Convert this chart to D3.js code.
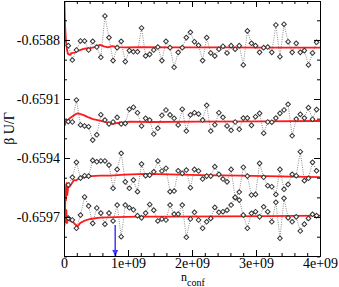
<!DOCTYPE html>
<html>
<head>
<meta charset="utf-8">
<script src="https://cdn.jsdelivr.net/npm/d3@7"></script>
<style>
body { margin: 0; background: #fff; }
text { font-family: "Liberation Serif", "Times New Roman", serif; }
</style>
</head>
<body>
<div id="chart"></div>
<script>
// sample positions (units of 1e9 configurations)
const firstConf = 0.067
const confStep = 0.0636

const series1 = [-0.658829,-0.658902,-0.658851,-0.658805,-0.658805,-0.658851,-0.658807,-0.658836,-0.658888,-0.658678,
  -0.658788,-0.658905,-0.658839,-0.658807,-0.658910,-0.658854,-0.658860,-0.658860,-0.658739,-0.658881,
  -0.658873,-0.658851,-0.658836,-0.658905,-0.658807,-0.658839,-0.658939,-0.658863,-0.658839,-0.658788,
  -0.658761,-0.658809,-0.658827,-0.658905,-0.658788,-0.658866,-0.658881,-0.658847,-0.658832,-0.658866,
  -0.658829,-0.658847,-0.658829,-0.658927,-0.658754,-0.658817,-0.658829,-0.658863,-0.658839,-0.658836,
  -0.658863,-0.658724,-0.658885,-0.658720,-0.658809,-0.658863,-0.658817,-0.658863,-0.658854,-0.658927,
  -0.658866,-0.658812]

const series2 = [-0.659215,-0.659217,-0.659105,-0.659232,-0.659237,-0.659241,-0.659309,-0.659282,-0.659180,-0.659207,
  -0.659227,-0.659217,-0.659193,-0.659227,-0.659224,-0.659152,-0.659142,-0.659170,-0.659237,-0.659198,
  -0.659207,-0.659278,-0.659249,-0.659183,-0.659156,-0.659181,-0.659198,-0.659232,-0.659152,-0.659263,
  -0.659181,-0.659170,-0.659176,-0.659207,-0.659132,-0.659263,-0.659231,-0.659170,-0.659193,-0.659237,
  -0.659259,-0.659217,-0.659254,-0.659197,-0.659197,-0.659234,-0.659190,-0.659173,-0.659274,-0.659217,
  -0.659218,-0.659197,-0.659173,-0.659156,-0.659127,-0.659287,-0.659202,-0.659178,-0.659197,-0.659144,
  -0.659203,-0.659154]

const series3 = [-0.659537,-0.659498,-0.659422,-0.659502,-0.659490,-0.659492,-0.659412,-0.659419,-0.659415,-0.659415,
  -0.659436,-0.659554,-0.659458,-0.659376,-0.659521,-0.659554,-0.659512,-0.659571,-0.659431,-0.659490,
  -0.659487,-0.659470,-0.659415,-0.659466,-0.659452,-0.659571,-0.659568,-0.659465,-0.659478,-0.659461,
  -0.659551,-0.659458,-0.659466,-0.659507,-0.659492,-0.659492,-0.659444,-0.659483,-0.659507,-0.659521,
  -0.659458,-0.659602,-0.659573,-0.659447,-0.659492,-0.659588,-0.659585,-0.659427,-0.659498,-0.659541,
  -0.659546,-0.659585,-0.659458,-0.659559,-0.659534,-0.659483,-0.659490,-0.659368,-0.659515,-0.659503,
  -0.659422,-0.659465]

const series4 = [-0.659705,-0.659715,-0.659757,-0.659690,-0.659598,-0.659644,-0.659732,-0.659654,-0.659680,-0.659736,
  -0.659680,-0.659720,-0.659639,-0.659800,-0.659639,-0.659653,-0.659663,-0.659693,-0.659704,-0.659680,
  -0.659636,-0.659665,-0.659720,-0.659710,-0.659715,-0.659639,-0.659685,-0.659685,-0.659639,-0.659803,
  -0.659710,-0.659676,-0.659715,-0.659757,-0.659724,-0.659707,-0.659651,-0.659676,-0.659673,-0.659665,
  -0.659639,-0.659600,-0.659614,-0.659690,-0.659757,-0.659681,-0.659673,-0.659699,-0.659648,-0.659673,
  -0.659724,-0.659625,-0.659808,-0.659605,-0.659704,-0.659724,-0.659699,-0.659771,-0.659736,-0.659707,
  -0.659686,-0.659693]

// running averages (red)
const avg1Conf = [0.005,0.016,0.031,0.047,0.0625,0.094,0.125,0.172,0.219,0.281,0.344,0.406,0.484,0.5625,0.625,0.6875,0.75,0.844,0.953,1.1875,1.656,2.4375,3.219,4.0]
const avg1 = [-0.658571,-0.658724,-0.658810,-0.658851,-0.658871,-0.658876,-0.658866,-0.658864,-0.658856,-0.658848,-0.658843,-0.658841,-0.658836,-0.658825,-0.658833,-0.658838,-0.658831,-0.658836,-0.658838,-0.658836,-0.658838,-0.658838,-0.658839,-0.658839]

const avg2Conf = [0.0,0.016,0.031,0.0625,0.094,0.141,0.1875,0.219,0.297,0.375,0.453,0.5625,0.6875,0.766,0.844,1.03,1.34,2.1,3.1,4.0]
const avg2 = [-0.659197,-0.659232,-0.659212,-0.659207,-0.659197,-0.659186,-0.659176,-0.659173,-0.659181,-0.659192,-0.659202,-0.659210,-0.659220,-0.659227,-0.659222,-0.659215,-0.659217,-0.659215,-0.659214,-0.659212]

const avg3Conf = [0.0,0.008,0.016,0.023,0.031,0.042,0.052,0.0625,0.094,0.125,0.156,0.1875,0.234,0.281,0.344,0.4375,0.5625,0.719,0.953,1.266,1.656,2.125,2.75,3.375,4.0]
const avg3 = [-0.659639,-0.659537,-0.659665,-0.659563,-0.659614,-0.659527,-0.659588,-0.659553,-0.659542,-0.659527,-0.659512,-0.659514,-0.659504,-0.659499,-0.659497,-0.659492,-0.659489,-0.659489,-0.659484,-0.659481,-0.659483,-0.659487,-0.659489,-0.659493,-0.659497]

const avg4Conf = [0.0,0.008,0.016,0.027,0.036,0.047,0.0625,0.094,0.141,0.1875,0.219,0.25,0.3125,0.406,0.5625,0.797,1.1875,1.656,2.4375,3.219,4.0]
const avg4 = [-0.659675,-0.659741,-0.659639,-0.659726,-0.659665,-0.659731,-0.659710,-0.659720,-0.659726,-0.659741,-0.659746,-0.659731,-0.659720,-0.659710,-0.659703,-0.659700,-0.659698,-0.659698,-0.659697,-0.659695,-0.659693]

// the chosen configuration count (blue arrow), units of 1e9
const arrowConf = 0.8
const arrowValue = -0.65974

const yMajor = [-0.6597,-0.6594,-0.6591,-0.6588]
const yMinor = [-0.6599,-0.6598,-0.6596,-0.6595,-0.6593,-0.6592,-0.6590,-0.6589,-0.6587]
const xMajor = [0,1,2,3,4]
const xLabels = ['0','1e+09','2e+09','3e+09','4e+09']
const xMinor = [0.2,0.4,0.6,0.8,1.2,1.4,1.6,1.8,2.2,2.4,2.6,2.8,3.2,3.4,3.6,3.8]

const W = 339, H = 287
const margin = {top: 1, right: 19, bottom: 31, left: 64}
const w = W - margin.left - margin.right
const h = H - margin.top - margin.bottom

const svg = d3.select('#chart').append('svg').attr('width', W).attr('height', H)
const g = svg.append('g').attr('transform', `translate(${margin.left},${margin.top})`)

const x = d3.scaleLinear().domain([0, 4]).range([0, w])
const y = d3.scaleLinear().domain([-0.659898, -0.658602]).range([h, 0])

svg.append('defs').append('clipPath').attr('id', 'clip')
  .append('rect').attr('width', w).attr('height', h)

const plot = g.append('g').attr('clip-path', 'url(#clip)')

const allSeries = [series1, series2, series3, series4]
const line = d3.line()
  .x((d, i) => x(firstConf + i * confStep))
  .y(d => y(d))

allSeries.forEach(s => {
  plot.append('path')
    .datum(s)
    .attr('d', line)
    .attr('fill', 'none')
    .attr('stroke', '#8a8a8a')
    .attr('stroke-width', 1)
    .attr('stroke-dasharray', '1,1.3')
})

const avgLine = d3.line()
  .x(d => x(d[0]))
  .y(d => y(d[1]))

const avgs = [[avg1Conf, avg1], [avg2Conf, avg2], [avg3Conf, avg3], [avg4Conf, avg4]]
avgs.forEach(a => {
  plot.append('path')
    .datum(d3.zip(a[0], a[1]))
    .attr('d', avgLine)
    .attr('fill', 'none')
    .attr('stroke', '#ff1a1a')
    .attr('stroke-width', 1.8)
    .attr('stroke-linejoin', 'round')
})

const diamond = d3.symbol().type(d3.symbolSquare).size(11)
allSeries.forEach(s => {
  plot.selectAll(null)
    .data(s)
    .enter().append('path')
    .attr('d', diamond)
    .attr('transform', (d, i) => `translate(${x(firstConf + i * confStep)},${y(d)}) rotate(45)`)
    .attr('fill', '#fff')
    .attr('stroke', '#333')
    .attr('stroke-width', 1)
})

// blue arrow
svg.append('defs').append('marker')
  .attr('id', 'head').attr('viewBox', '0 0 10 10')
  .attr('refX', 10).attr('refY', 5)
  .attr('markerWidth', 6).attr('markerHeight', 6)
  .attr('markerUnits', 'userSpaceOnUse')
  .attr('orient', 'auto')
  .append('path').attr('d', 'M0,0L10,5L0,10z').attr('fill', '#3c3cff')

g.append('line')
  .attr('x1', x(arrowConf)).attr('x2', x(arrowConf))
  .attr('y1', y(arrowValue)).attr('y2', h)
  .attr('stroke', '#3c3cff')
  .attr('stroke-width', 1.5)
  .attr('marker-end', 'url(#head)')

// axes: ticks point inward on all four sides
function style(sel) {
  sel.selectAll('path').attr('stroke', '#000').attr('stroke-width', 1)
  sel.selectAll('line').attr('stroke', '#000')
  sel.selectAll('text').attr('font-family', '"Liberation Serif", serif').attr('font-size', 14).attr('fill', '#000')
}

g.append('g').attr('transform', `translate(0,${h})`)
  .call(d3.axisBottom(x).tickValues(xMinor).tickSize(-3).tickFormat('').tickSizeOuter(0)).call(style)
g.append('g').attr('transform', `translate(0,${h})`)
  .call(d3.axisBottom(x).tickValues(xMajor).tickSize(-6).tickPadding(2).tickSizeOuter(0)
    .tickFormat((d, i) => xLabels[i])).call(style)
g.append('g')
  .call(d3.axisTop(x).tickValues(xMinor).tickSize(-3).tickFormat('').tickSizeOuter(0)).call(style)
g.append('g')
  .call(d3.axisTop(x).tickValues(xMajor).tickSize(-6).tickFormat('').tickSizeOuter(0)).call(style)

g.append('g')
  .call(d3.axisLeft(y).tickValues(yMinor).tickSize(-3).tickFormat('').tickSizeOuter(0)).call(style)
g.append('g')
  .call(d3.axisLeft(y).tickValues(yMajor).tickSize(-6).tickPadding(4).tickSizeOuter(0)
    .tickFormat(d3.format('.4f'))).call(style)
g.append('g').attr('transform', `translate(${w},0)`)
  .call(d3.axisRight(y).tickValues(yMinor).tickSize(-3).tickFormat('').tickSizeOuter(0)).call(style)
g.append('g').attr('transform', `translate(${w},0)`)
  .call(d3.axisRight(y).tickValues(yMajor).tickSize(-6).tickFormat('').tickSizeOuter(0)).call(style)

g.selectAll('.tick text').filter(function() { return this.textContent.startsWith('−') })
  .text(function() { return this.textContent.replace('−', '-') })

// axis titles
const xt = svg.append('text')
  .attr('x', 181).attr('y', 281)
  .attr('font-size', 12)
xt.append('tspan').text('n')
xt.append('tspan').attr('dy', 5).attr('font-size', 10).text('conf')

svg.append('text')
  .attr('transform', `translate(14,${margin.top + h / 2}) rotate(-90)`)
  .attr('text-anchor', 'middle')
  .attr('font-size', 14)
  .text('β U/Γ')
</script>
</body>
</html>
